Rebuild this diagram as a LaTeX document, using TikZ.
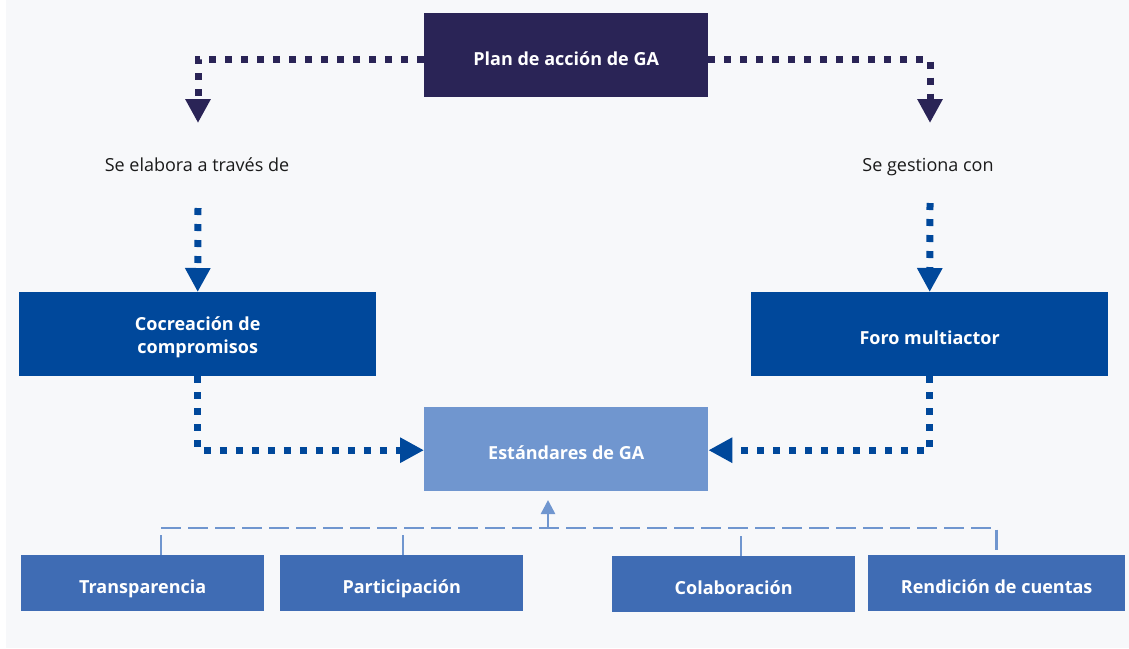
\documentclass[tikz,border=0pt]{standalone}
\usepackage{fontspec}
\setmainfont{Open Sans}
\usetikzlibrary{arrows.meta}
\definecolor{navy}{HTML}{2A2456}
\definecolor{dblue}{HTML}{00489B}
\definecolor{lblue}{HTML}{7096CF}
\definecolor{mblue}{HTML}{3F6CB4}
\definecolor{bgc}{HTML}{F7F8FA}
\definecolor{txt}{HTML}{1A1A1A}
\tikzset{
  boxbase/.style={anchor=north west, inner sep=0pt, text=white, align=center,
    font=\fontsize{18}{23}\selectfont\bfseries},
  box/.style={boxbase, text height=20pt, text depth=0pt},
  lab/.style={inner sep=0pt, anchor=base, text=txt, font=\fontsize{18}{23}\selectfont},
  dotl/.style={line width=7pt, dash pattern=on 7pt off 9pt,
    -{Triangle[width=24pt,length=24pt]}},
  dashl/.style={draw=lblue, line width=2.5pt, dash pattern=on 20pt off 7pt},
}
\begin{document}
\begin{tikzpicture}[x=1pt,y=-1pt]
\useasboundingbox (0,0) rectangle (1129,648);
\fill[bgc] (6,0) rectangle (1129,648);
% boxes
\node[box, fill=navy, minimum width=284pt, minimum height=84pt] (plan) at (424,13) {Plan de acción de GA};
\node[boxbase, fill=dblue, minimum width=357pt, minimum height=84pt, text height=42pt, text depth=4pt] (cocre) at (19,292) {Cocreación de\\compromisos};
\node[box, fill=dblue, minimum width=357pt, minimum height=84pt] (foro) at (751,292) {Foro multiactor};
\node[box, fill=lblue, minimum width=284pt, minimum height=84pt] (est) at (424,407) {Estándares de GA};
\node[box, fill=mblue, minimum width=243pt, minimum height=56pt] (transp) at (21,555) {Transparencia};
\node[box, fill=mblue, minimum width=243pt, minimum height=56pt] (partic) at (280,555) {Participación};
\node[box, fill=mblue, minimum width=243pt, minimum height=56pt] (colab) at (612,556) {Colaboración};
\node[box, fill=mblue, minimum width=257pt, minimum height=56pt] (rend) at (868,555) {Rendición de cuentas};
% labels
\node[lab] (lab1) at (197,171) {Se elabora a través de};
\node[lab] (lab2) at (928,171) {Se gestiona con};
% coordinates
\coordinate (t1) at (198,123);
\coordinate (t2) at (930,123);
\coordinate (s1) at (198,208);
\coordinate (s2) at (930,203);
\coordinate (hub) at (548,528);
\coordinate (up) at (548,500);
% top connectors
\draw[dotl, navy] ([yshift=-4pt]plan.west) -| (t1);
\draw[dotl, navy] ([yshift=-4pt]plan.east) -| (t2);
\draw[dotl, dblue] (s1) -- (cocre.north);
\draw[dotl, dblue] (s2) -- (foro.north);
\draw[dotl, dblue] (cocre.south) |- ([yshift=-1pt]est.west);
\draw[dotl, dblue] (foro.south) |- ([yshift=-1pt]est.east);
% bracket
\draw[dashl] ([xshift=18.5pt]transp.north) |- ([yshift=27pt]rend.north) -- (rend.north);
\draw[dashl] ([xshift=1.5pt]partic.north) -- ++(0,-20);
\draw[dashl] ([xshift=7.5pt]colab.north) -- ++(0,-21);
\draw[lblue, line width=2.5pt, -{Triangle[width=14pt,length=14pt]}] (hub) -- (up);
\end{tikzpicture}
\end{document}
